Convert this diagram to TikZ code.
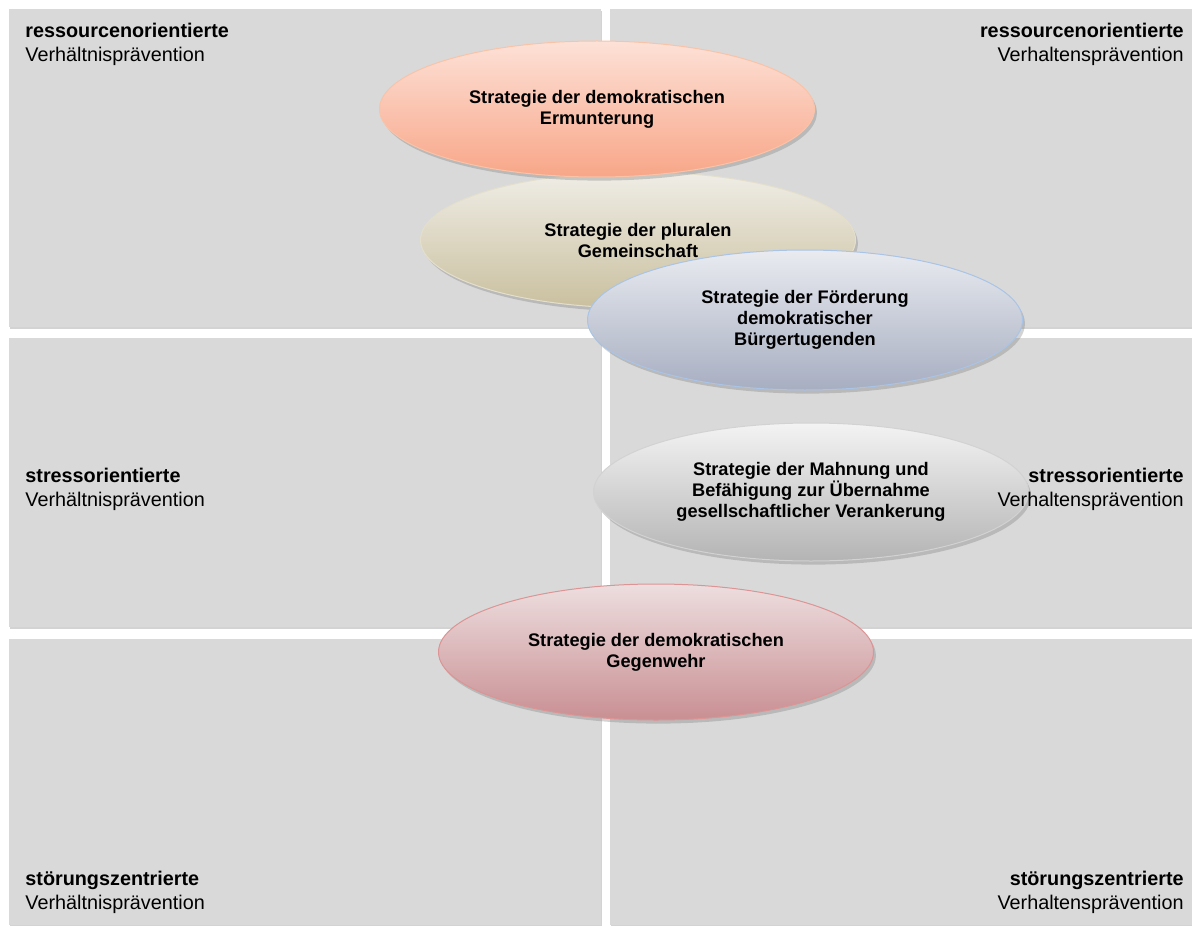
\documentclass[tikz,border=0pt]{standalone}
\usepackage{fontspec}
\setmainfont{Liberation Sans}
\usetikzlibrary{shapes.geometric,shadows}
\definecolor{prvPanel}{HTML}{D9D9D9}
\definecolor{prvOrangeTop}{HTML}{FDE1D7}
\definecolor{prvOrangeBot}{HTML}{F8A688}
\definecolor{prvOrangeRim}{HTML}{F9C3A8}
\definecolor{prvBeigeTop}{HTML}{EFEDE6}
\definecolor{prvBeigeBot}{HTML}{CAC09F}
\definecolor{prvBeigeRim}{HTML}{E4DFCC}
\definecolor{prvBlueTop}{HTML}{E9EBF0}
\definecolor{prvBlueBot}{HTML}{A7AEC1}
\definecolor{prvBlueRim}{HTML}{A9C4E6}
\definecolor{prvGrayTop}{HTML}{F3F3F3}
\definecolor{prvGrayBot}{HTML}{B4B4B4}
\definecolor{prvGrayRim}{HTML}{D2D2D2}
\definecolor{prvRedTop}{HTML}{EDDEDF}
\definecolor{prvRedBot}{HTML}{C98F93}
\definecolor{prvRedRim}{HTML}{DC9494}
\tikzset{
  prv panel/.style={fill=prvPanel, drop shadow={opacity=0.35, shadow xshift=0.6pt, shadow yshift=-1pt}},
  prv corner/.style={inner sep=0pt, font=\fontsize{9.9}{12}\selectfont},
  prv strategy/.style={ellipse, inner sep=0pt, minimum width=217.5pt, minimum height=68pt,
    align=center, font=\fontsize{9.1}{10.5}\selectfont\bfseries, line width=0.5pt,
    drop shadow={opacity=0.35, shadow xshift=1.2pt, shadow yshift=-1.8pt}},
}
\begin{document}
\begin{tikzpicture}[x=0.5pt,y=-0.5pt]
  \useasboundingbox (0,0) rectangle (1192,925);
  % Six grey fields of the grid
  \foreach \xa/\xb in {9/601,610/1192}
    \foreach \ya/\yb in {9/327,338/627,639/925}
      \fill[prv panel] (\xa,\ya) rectangle (\xb,\yb);
  % Strategies, back to front
  \node[prv strategy, draw=prvBeigeRim, top color=prvBeigeTop, bottom color=prvBeigeBot]
    (plural) at (638,240) {Strategie der pluralen\\Gemeinschaft};
  \node[prv strategy, draw=prvOrangeRim, top color=prvOrangeTop, bottom color=prvOrangeBot]
    (ermunterung) at (597,109) {Strategie der demokratischen\\Ermunterung};
  \node[prv strategy, minimum height=70pt, draw=prvBlueRim, top color=prvBlueTop, bottom color=prvBlueBot]
    (buerger) at (805,320) {Strategie der Förderung\\demokratischer\\Bürgertugenden};
  \node[prv strategy, minimum height=69pt, draw=prvGrayRim, top color=prvGrayTop, bottom color=prvGrayBot]
    (mahnung) at (811,492) {Strategie der Mahnung und\\Befähigung zur Übernahme\\gesellschaftlicher Verankerung};
  \node[prv strategy, draw=prvRedRim, top color=prvRedTop, bottom color=prvRedBot]
    (gegenwehr) at (656,652) {Strategie der demokratischen\\Gegenwehr};
  % Corner labels (base anchor sits on the last line)
  \node[prv corner, anchor=base west, align=left] (tl) at (25,62)
    {\textbf{ressourcenorientierte}\\Verhältnisprävention};
  \node[prv corner, anchor=base east, align=right] (tr) at (1184,62)
    {\textbf{ressourcenorientierte}\\Verhaltensprävention};
  \node[prv corner, anchor=base west, align=left] (ml) at (25,506)
    {\textbf{stressorientierte}\\Verhältnisprävention};
  \node[prv corner, anchor=base east, align=right] (mr) at (1184,506)
    {\textbf{stressorientierte}\\Verhaltensprävention};
  \node[prv corner, anchor=base west, align=left] (bl) at (25,909)
    {\textbf{störungszentrierte}\\Verhältnisprävention};
  \node[prv corner, anchor=base east, align=right] (br) at (1184,909)
    {\textbf{störungszentrierte}\\Verhaltensprävention};
\end{tikzpicture}
\end{document}
